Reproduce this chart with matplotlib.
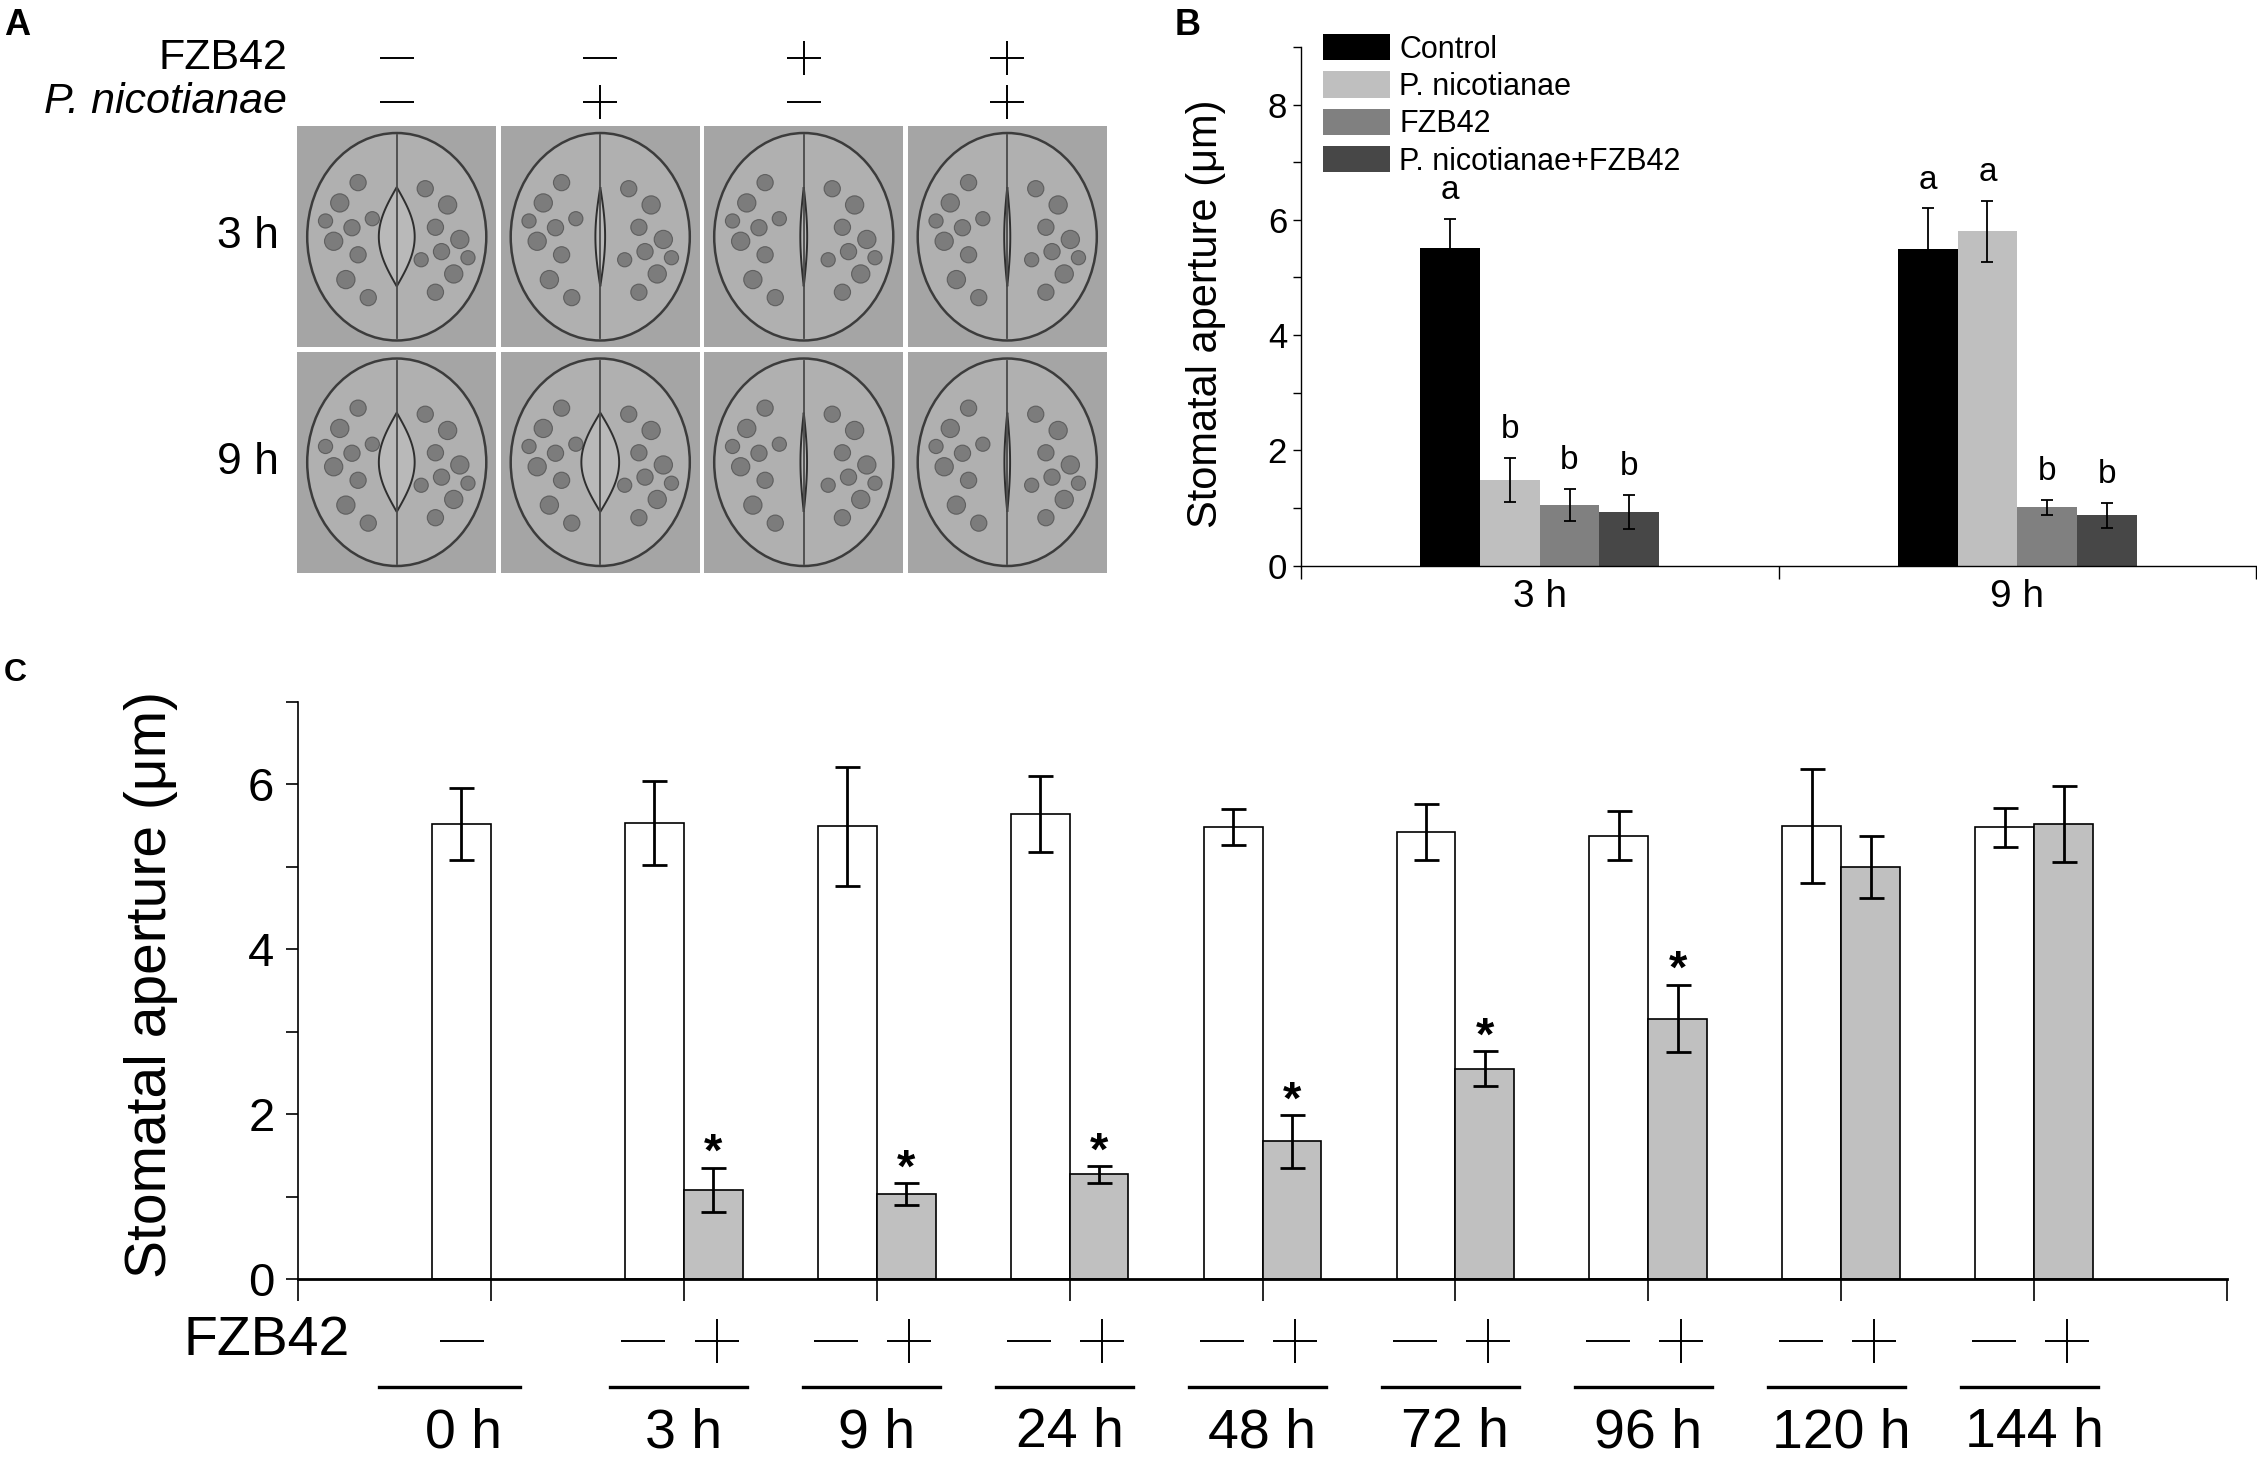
import numpy as np
import matplotlib.pyplot as plt
from matplotlib.patches import Rectangle, Ellipse
from matplotlib.lines import Line2D
from matplotlib.transforms import blended_transform_factory

plt.rcParams['font.family'] = ['Liberation Sans', 'DejaVu Sans']

W, H = 2257, 1462

# ---- panel A: treatments and hours
fzb_a = ['-', '-', '+', '+']
pn_a = ['-', '+', '-', '+']
rows_a = ['3 h', '9 h']

# ---- panel B data
times_b = ['3 h', '9 h']
treat_b = ['Control', 'P. nicotianae', 'FZB42', 'P. nicotianae+FZB42']
control_b = [5.51, 5.50]
control_b_err = [0.51, 0.70]
pn_b = [1.49, 5.80]
pn_b_err = [0.38, 0.53]
fzb_b = [1.05, 1.01]
fzb_b_err = [0.28, 0.13]
combo_b = [0.93, 0.87]
combo_b_err = [0.30, 0.22]
letters_b = [['a', 'a'], ['b', 'a'], ['b', 'b'], ['b', 'b']]
colors_b = ['#000000', '#bfbfbf', '#808080', '#474747']

# ---- panel C data
times_c = ['0 h', '3 h', '9 h', '24 h', '48 h', '72 h', '96 h', '120 h', '144 h']
ctrl_c = [5.52, 5.53, 5.49, 5.64, 5.48, 5.42, 5.38, 5.50, 5.48]
ctrl_c_err = [0.44, 0.51, 0.72, 0.46, 0.22, 0.34, 0.30, 0.69, 0.24]
fzb_c = [np.nan, 1.08, 1.03, 1.27, 1.67, 2.55, 3.16, 5.00, 5.52]
fzb_c_err = [np.nan, 0.27, 0.13, 0.10, 0.32, 0.21, 0.41, 0.38, 0.46]
sig_c = ['', '*', '*', '*', '*', '*', '*', '', '']


def fx(px):
    return px / W


def fy(py):
    return 1 - py / H


fig = plt.figure(figsize=(W / 100, H / 100), dpi=100)

# panel letters
fig.text(fx(4), fy(8), 'A', fontsize=26, fontweight='bold', va='top')
fig.text(fx(1175), fy(8), 'B', fontsize=26, fontweight='bold', va='top')
fig.text(fx(4), fy(658), 'C', fontsize=23, fontweight='bold', va='top')

# ================= Panel A (sketch of the micrographs) =================
axA = fig.add_axes([fx(295), fy(575), fx(1109) - fx(295), fy(124) - fy(575)])
axA.set_xlim(0, 4)
axA.set_ylim(2, 0)
axA.axis('off')

# aperture of each cell taken from panel B means
aper_a = [[control_b[r], pn_b[r], fzb_b[r], combo_b[r]] for r in range(2)]
chloro = [(-0.28, -0.15, 0.045), (-0.19, -0.24, 0.04), (-0.31, 0.02, 0.045),
          (-0.19, 0.08, 0.04), (-0.25, 0.19, 0.045), (-0.12, -0.08, 0.035),
          (-0.14, 0.27, 0.04), (-0.35, -0.07, 0.035), (-0.22, -0.04, 0.04)]
gap = 0.02
for r in range(2):
    for c in range(4):
        cx, cy = c + 0.5, r + 0.5
        axA.add_patch(Rectangle((c + gap / 2, r + gap / 2), 1 - gap, 1 - gap,
                                fc='#a5a5a5', ec='none'))
        axA.add_patch(Ellipse((cx, cy), 0.88, 0.92, fc='#b0b0b0', ec='#3c3c3c', lw=1.8))
        for dx, dy, rad in chloro:
            for s in (1, -1):
                dyy = dy if s == 1 else -dy * 0.9 + 0.03
                axA.add_patch(Ellipse((cx + s * dx, cy + dyy), rad * 2, rad * 2 * 0.9,
                                      fc='#666666', ec='#4a4a4a', lw=0.8, alpha=0.7))
        axA.plot([cx, cx], [cy - 0.45, cy + 0.45], color='#4a4a4a', lw=1.3)
        hw = aper_a[r][c] * 0.016
        t = np.linspace(-1, 1, 60)
        yy = cy + t * 0.22
        xx = hw * np.cos(t * np.pi / 2)
        axA.fill(np.concatenate([cx - xx, (cx + xx)[::-1]]),
                 np.concatenate([yy, yy[::-1]]), fc='#b9b9b9', ec='#2e2e2e', lw=1.4)

trA = blended_transform_factory(axA.transData, fig.transFigure)
fig.text(fx(287), fy(58), 'FZB42', fontsize=31, ha='right', va='center')
fig.text(fx(287), fy(102), 'P. nicotianae', fontsize=31, ha='right', va='center',
         style='italic')
for c in range(4):
    for sign, ypx in ((fzb_a[c], 58), (pn_a[c], 102)):
        axA.plot([c + 0.5], [fy(ypx)], marker='+' if sign == '+' else '_',
                 ms=24, mew=1.4, color='black', transform=trA, clip_on=False)
for r, lab in enumerate(rows_a):
    axA.text(-0.08, r + 0.5, lab, fontsize=32, ha='right', va='center')

# ================= Panel B =================
axB = fig.add_axes([fx(1301), fy(565.6), fx(2256) - fx(1301), fy(46.9) - fy(565.6)])
means_b = [control_b, pn_b, fzb_b, combo_b]
errs_b = [control_b_err, pn_b_err, fzb_b_err, combo_b_err]
centers_b = np.array([0.5, 1.5])
bw = 0.125
handles = []
for i, (m, e) in enumerate(zip(means_b, errs_b)):
    xs = centers_b - 2 * bw + i * bw
    axB.bar(xs, m, width=bw, align='edge', color=colors_b[i], edgecolor='none')
    axB.errorbar(xs + bw / 2, m, yerr=e, fmt='none', ecolor='black',
                 elinewidth=1.3, capsize=4, capthick=1.3)
    for j in range(2):
        axB.text(xs[j] + bw / 2, m[j] + e[j] + 0.22, letters_b[i][j],
                 fontsize=24, ha='center', va='bottom')
    handles.append(Rectangle((0, 0), 1, 1, fc=colors_b[i], ec='none'))

axB.legend(handles, treat_b, loc='upper left', bbox_to_anchor=(0.023, 1.025),
           frameon=False, fontsize=22, handlelength=2.2, handleheight=0.95,
           handletextpad=0.3, labelspacing=0.22, borderpad=0, borderaxespad=0)
axB.set_xlim(0, 2)
axB.set_ylim(0, 9)
axB.set_xticks([0, 1, 2])
axB.set_xticklabels([])
axB.set_xticks(centers_b, minor=True)
axB.set_xticklabels(times_b, minor=True, fontsize=28)
axB.tick_params(axis='x', which='major', direction='out', length=9, width=1)
axB.tick_params(axis='x', which='minor', length=0, pad=10)
axB.set_yticks([0, 2, 4, 6, 8])
axB.set_yticks([1, 3, 5, 7, 9], minor=True)
axB.tick_params(axis='y', which='both', direction='out', length=6, width=1,
                labelsize=25, pad=4)
axB.spines['top'].set_visible(False)
axB.spines['right'].set_visible(False)
axB.spines['left'].set_linewidth(1)
axB.spines['bottom'].set_linewidth(1)
axB.set_ylabel('Stomatal aperture (μm)', fontsize=30)
axB.yaxis.set_label_coords(-0.079, 0.485)

# ================= Panel C =================
axC = fig.add_axes([fx(298), fy(1279), fx(2227) - fx(298), fy(702) - fy(1279)])
groups = np.arange(1, len(times_c) + 1)
bwc = 0.305
axC.bar(groups - bwc, ctrl_c, width=bwc, align='edge', color='white',
        edgecolor='black', linewidth=1.2)
axC.errorbar(groups - bwc / 2, ctrl_c, yerr=ctrl_c_err, fmt='none', ecolor='black',
             elinewidth=2, capsize=9, capthick=2)
fz = np.array(fzb_c)
fe = np.array(fzb_c_err)
ok = ~np.isnan(fz)
axC.bar(groups[ok], fz[ok], width=bwc, align='edge', color='#c0c0c0',
        edgecolor='black', linewidth=1.2)
axC.errorbar(groups[ok] + bwc / 2, fz[ok], yerr=fe[ok], fmt='none', ecolor='black',
             elinewidth=2, capsize=9, capthick=2)
for g, m, e, s in zip(groups, fzb_c, fzb_c_err, sig_c):
    if s:
        axC.text(g + bwc / 2, m + e + 0.02, s, fontsize=34, fontweight='bold',
                 ha='center', va='baseline')

axC.set_xlim(0, 10)
axC.set_ylim(0, 7)
axC.set_xticks(np.arange(0, 11))
axC.set_xticklabels([])
axC.tick_params(axis='x', direction='out', length=16, width=1.2)
axC.set_yticks([0, 2, 4, 6])
axC.set_yticks([1, 3, 5, 7], minor=True)
axC.tick_params(axis='y', which='both', direction='out', length=9, width=1.2,
                labelsize=34, pad=8)
axC.spines['top'].set_visible(False)
axC.spines['right'].set_visible(False)
axC.spines['left'].set_linewidth(1.2)
axC.spines['bottom'].set_linewidth(2)
axC.set_ylabel('Stomatal aperture (μm)', fontsize=41)
axC.yaxis.set_label_coords(-0.062, 0.51)

# treatment rows under the axis
trC = blended_transform_factory(axC.transData, fig.transFigure)
fig.text(fx(350), fy(1341), 'FZB42', fontsize=40, ha='right', va='center')
for g, m in zip(groups, fzb_c):
    if np.isnan(m):
        axC.plot([g - 0.15], [fy(1341)], marker='_', ms=32, mew=1.4, color='black',
                 transform=trC, clip_on=False)
        x0, x1 = g - 0.58, g + 0.15
    else:
        axC.plot([g - 0.21], [fy(1341)], marker='_', ms=32, mew=1.4, color='black',
                 transform=trC, clip_on=False)
        axC.plot([g + 0.17], [fy(1341)], marker='+', ms=32, mew=1.4, color='black',
                 transform=trC, clip_on=False)
        x0, x1 = g - 0.38, g + 0.33
    axC.add_line(Line2D([x0, x1], [fy(1387), fy(1387)], color='black', lw=2.4,
                        transform=trC, clip_on=False))
for g, m, lab in zip(groups, fzb_c, times_c):
    xl = g - 0.14 if np.isnan(m) else g
    axC.text(xl, fy(1447), lab, fontsize=40, ha='center', va='baseline',
             transform=trC)

fig.savefig('out.png', dpi=100)
